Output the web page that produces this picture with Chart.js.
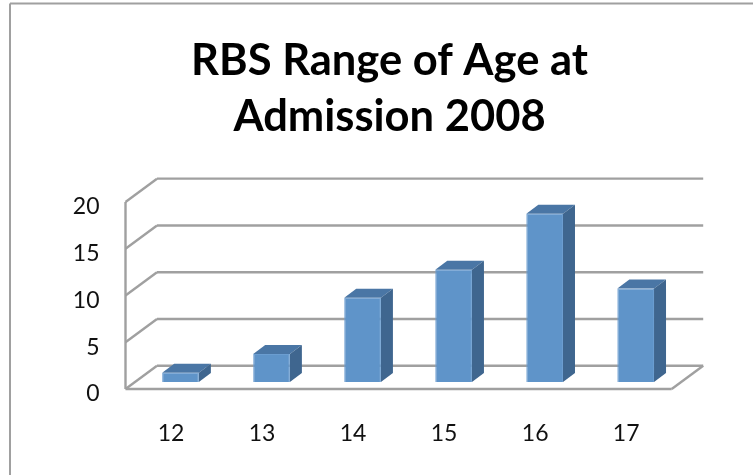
<!DOCTYPE html>
<html>
<head>
    <title>RBS Range of Age at Admission 2008</title>
    <script src="https://cdn.jsdelivr.net/npm/chart.js"></script>
    <style>
        html, body { margin: 0; padding: 0; background: #fff; }
        #box { width: 753px; height: 475px; }
    </style>
</head>
<body>
    <div id="box"><canvas id="ageChart"></canvas></div>

    <script>
        const titleLines = ['RBS Range of Age at', 'Admission 2008'];
        const ages = ['12', '13', '14', '15', '16', '17'];
        const counts = [1, 3, 9, 12, 18, 10];
        const yTicks = [0, 5, 10, 15, 20];

        // depth of the 3D box, and how far the bars sit inside it
        const depthX = 31.5, depthY = 23.3;
        const barShiftX = 9.5, barShiftY = 7;
        const barDepthX = 12, barDepthY = 9;
        const lineColor = '#a0a0a0';

        function line(ctx, x1, y1, x2, y2) {
            ctx.beginPath();
            ctx.moveTo(x1, y1);
            ctx.lineTo(x2, y2);
            ctx.stroke();
        }

        function face(ctx, color, points) {
            ctx.fillStyle = color;
            ctx.beginPath();
            points.forEach((p, i) => i ? ctx.lineTo(p[0], p[1]) : ctx.moveTo(p[0], p[1]));
            ctx.closePath();
            ctx.fill();
        }

        const box3d = {
            id: 'box3d',
            beforeDraw(chart) {
                // outer frame, only top and left are visible
                const ctx = chart.ctx;
                ctx.save();
                ctx.strokeStyle = '#a0a0a0';
                ctx.lineWidth = 2;
                line(ctx, 753, 3.5, 10, 3.5);
                line(ctx, 10, 3.5, 10, 475);
                ctx.restore();
            },
            beforeDatasetsDraw(chart) {
                const ctx = chart.ctx;
                const { left, right } = chart.chartArea;
                const y = chart.scales.y;

                ctx.save();
                ctx.strokeStyle = lineColor;
                ctx.lineWidth = 2.4;
                yTicks.forEach(v => {
                    const py = y.getPixelForValue(v);
                    line(ctx, left, py, left + depthX, py - depthY);
                    line(ctx, left + depthX, py - depthY, right + depthX, py - depthY);
                });
                // front of the floor and its right edge
                const floor = y.getPixelForValue(0);
                line(ctx, left, floor, right, floor);
                line(ctx, right, floor, right + depthX, floor - depthY);
                // value axis
                line(ctx, left, y.getPixelForValue(20), left, floor);
                ctx.restore();

                // bars are pushed back into the box until afterDatasetsDraw
                ctx.save();
                ctx.translate(barShiftX, -barShiftY);
                chart.getDatasetMeta(0).data.forEach(bar => {
                    const x1 = bar.x - bar.width / 2, x2 = bar.x + bar.width / 2;
                    face(ctx, '#4a76a5', [[x1, bar.y], [x2, bar.y],
                        [x2 + barDepthX, bar.y - barDepthY], [x1 + barDepthX, bar.y - barDepthY]]);
                    face(ctx, '#3f668f', [[x2, bar.y], [x2 + barDepthX, bar.y - barDepthY],
                        [x2 + barDepthX, bar.base - barDepthY], [x2, bar.base]]);
                });
            },
            afterDatasetsDraw(chart) {
                chart.ctx.restore();
            }
        };

        new Chart(document.getElementById('ageChart'), {
            type: 'bar',
            data: {
                labels: ages,
                datasets: [{
                    data: counts,
                    backgroundColor: '#5f94c9',
                    borderColor: '#6b9dd0',
                    borderWidth: 1,
                    barPercentage: 0.403,
                    categoryPercentage: 1
                }]
            },
            plugins: [box3d],
            options: {
                responsive: true,
                maintainAspectRatio: false,
                animation: false,
                layout: { padding: { left: 26, right: 0, top: 0, bottom: 0 } },
                plugins: {
                    legend: { display: false },
                    tooltip: { enabled: false },
                    title: {
                        display: true,
                        text: titleLines,
                        color: '#000',
                        font: { family: 'Lato', size: 43.5, weight: 'bold', lineHeight: 1.287 },
                        padding: { top: 33, bottom: 57 }
                    }
                },
                scales: {
                    x: {
                        grid: { display: false, drawTicks: false },
                        border: { display: false },
                        ticks: { color: '#111', padding: 31, font: { family: 'Lato', size: 23 } },
                        afterFit(scale) { scale.height = 86; }
                    },
                    y: {
                        min: 0,
                        max: 20,
                        afterBuildTicks(scale) { scale.ticks = yTicks.map(value => ({ value })); },
                        grid: { display: false, drawTicks: false },
                        border: { display: false },
                        ticks: { color: '#111', padding: 26, labelOffset: 5, font: { family: 'Lato', size: 23 } },
                        afterFit(scale) { scale.width = 99.5; }
                    },
                    // empty axis, only keeps the space right of the box
                    spacer: {
                        type: 'linear',
                        position: 'right',
                        grid: { display: false, drawTicks: false },
                        border: { display: false },
                        ticks: { display: false },
                        afterFit(scale) { scale.width = 81.3; }
                    }
                }
            }
        });
    </script>
</body>
</html>
